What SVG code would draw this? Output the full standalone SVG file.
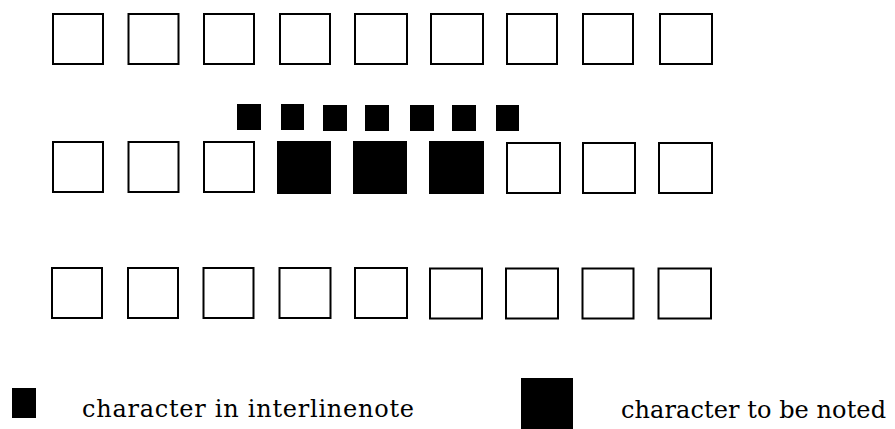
<svg xmlns="http://www.w3.org/2000/svg" width="895" height="429" viewBox="0 0 895 429">
<style>
.box{fill:#fff;stroke:#000;stroke-width:2}
.fill{fill:#000}
.lbl{font-family:"DejaVu Serif",serif;font-size:24px;fill:#000}
</style>
<rect width="895" height="429" fill="#fff"/>
<g id="row1">
<rect class="box" x="53" y="14" width="50" height="50"/>
<rect class="box" x="128.5" y="14" width="50" height="50"/>
<rect class="box" x="204" y="14" width="50" height="50"/>
<rect class="box" x="280" y="14" width="50" height="50"/>
<rect class="box" x="355" y="14" width="52" height="50"/>
<rect class="box" x="431" y="14" width="52" height="50"/>
<rect class="box" x="507" y="14" width="50" height="50"/>
<rect class="box" x="583" y="14" width="50" height="50"/>
<rect class="box" x="660" y="14" width="52" height="50"/>
</g>
<g id="notes">
<rect class="fill" x="237" y="104" width="24" height="26"/>
<rect class="fill" x="281" y="104" width="23" height="26"/>
<rect class="fill" x="323" y="105" width="24" height="26"/>
<rect class="fill" x="365" y="105" width="24" height="26"/>
<rect class="fill" x="410" y="105" width="24" height="26"/>
<rect class="fill" x="452" y="105" width="24" height="26"/>
<rect class="fill" x="496" y="105" width="23" height="26"/>
</g>
<g id="row2">
<rect class="box" x="53" y="142" width="50" height="50"/>
<rect class="box" x="128.5" y="142" width="50" height="50"/>
<rect class="box" x="204" y="142" width="50" height="50"/>
<rect class="fill" x="277" y="141" width="54" height="53"/>
<rect class="fill" x="353" y="141" width="54" height="53"/>
<rect class="fill" x="429" y="141" width="55" height="53"/>
<rect class="box" x="507" y="143" width="53" height="50"/>
<rect class="box" x="583" y="143" width="52" height="50"/>
<rect class="box" x="659" y="143" width="53" height="50"/>
</g>
<g id="row3">
<rect class="box" x="52" y="268" width="50" height="50"/>
<rect class="box" x="128" y="268" width="50" height="50"/>
<rect class="box" x="203.5" y="268" width="50" height="50"/>
<rect class="box" x="279.5" y="268" width="51" height="50"/>
<rect class="box" x="355" y="268" width="52" height="50"/>
<rect class="box" x="430" y="268.5" width="52" height="50"/>
<rect class="box" x="506" y="268.5" width="52" height="50"/>
<rect class="box" x="582.5" y="268.5" width="51" height="50"/>
<rect class="box" x="658.5" y="268.5" width="52.5" height="50"/>
</g>
<g id="legend-interline">
<rect class="fill" x="12" y="388" width="24" height="30"/>
<text class="lbl" x="82" y="417" textLength="332" lengthAdjust="spacing">character in interlinenote</text>
</g>
<g id="legend-noted">
<rect class="fill" x="521" y="378" width="52" height="51"/>
<text class="lbl" x="621" y="418" textLength="265" lengthAdjust="spacing">character to be noted</text>
</g>
</svg>
